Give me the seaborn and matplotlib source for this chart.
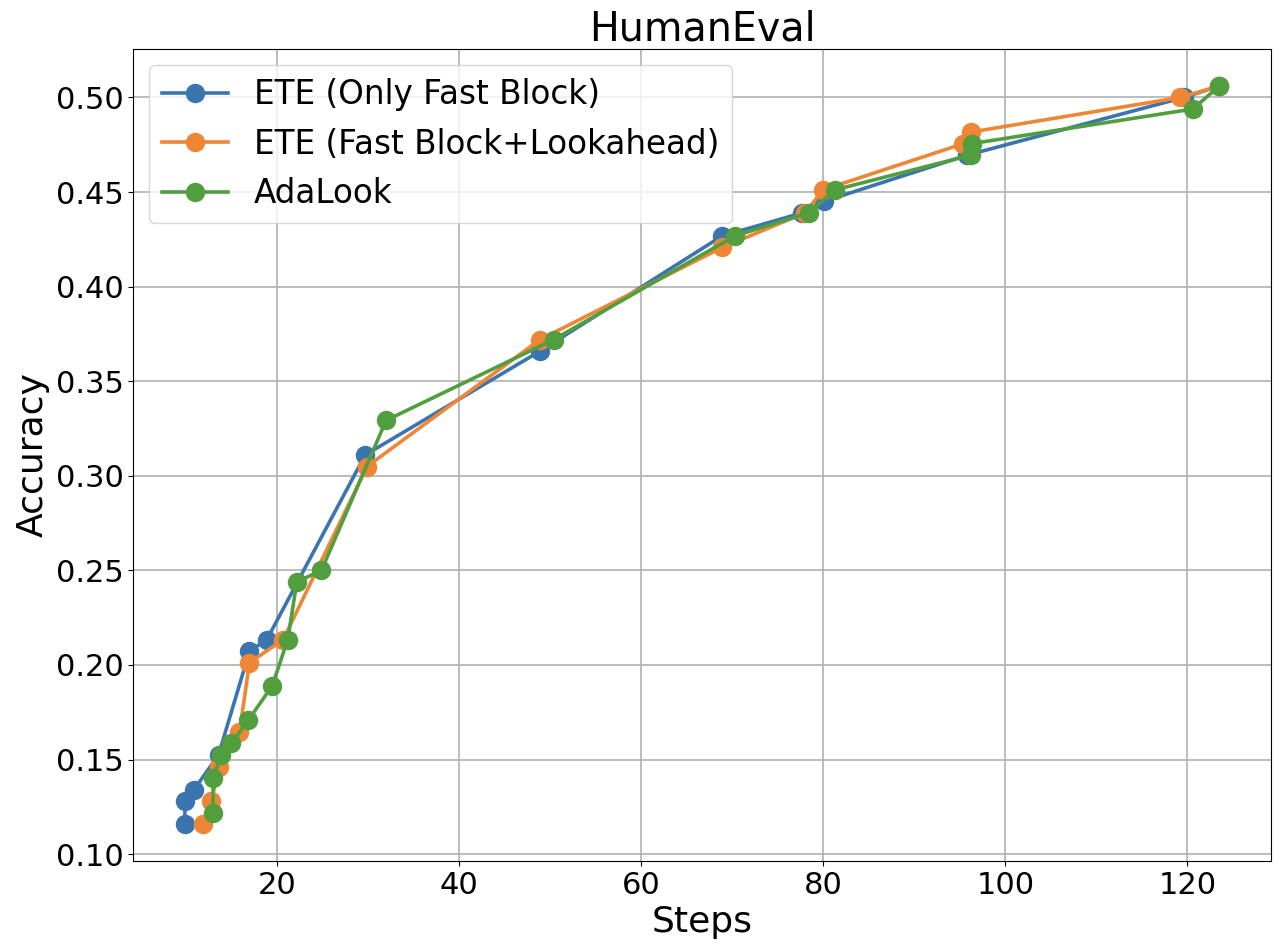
import numpy as np
import pandas as pd
import matplotlib
matplotlib.use("Agg")
import matplotlib.pyplot as plt
import seaborn as sns

# ==============================
# DATA
# ==============================
ete_fast_steps = [9.9, 9.9, 10.9, 13.6, 17.0, 18.9, 29.7, 48.9, 68.9, 77.7, 80.1, 95.8, 119.6, 123.5]
ete_fast_acc = [0.1159, 0.1280, 0.1341, 0.1524, 0.2073, 0.2134, 0.3110, 0.3659,
                0.4268, 0.4390, 0.4451, 0.4695, 0.5000, 0.5061]

ete_look_steps = [11.9, 12.8, 13.7, 15.9, 17.0, 20.7, 29.9, 48.9, 68.9, 78.0, 80.0,
                  95.4, 96.2, 119.2, 123.5]
ete_look_acc = [0.1159, 0.1280, 0.1463, 0.1646, 0.2012, 0.2134, 0.3049, 0.3720,
                0.4207, 0.4390, 0.4512, 0.4756, 0.4817, 0.5000, 0.5061]

adalook_steps = [13.0, 13.0, 13.9, 15.0, 16.85, 19.5, 21.2, 22.2, 24.9, 32.0, 50.4,
                 70.3, 78.4, 81.3, 96.2, 96.3, 120.6, 123.5]
adalook_acc = [0.1220, 0.1402, 0.1524, 0.1585, 0.1707, 0.1890, 0.2134, 0.2439, 0.2500,
               0.3293, 0.3720, 0.4268, 0.4390, 0.4512, 0.4695, 0.4756, 0.4939, 0.5061]

series_names = ["ETE (Only Fast Block)", "ETE (Fast Block+Lookahead)", "AdaLook"]
series_colors = ["#3b75af", "#ef8636", "#519e3e"]

# ==============================
# PLOT
# ==============================
fig, ax = plt.subplots(figsize=(12.8, 9.52), dpi=100)

all_series = [
    (ete_fast_steps, ete_fast_acc),
    (ete_look_steps, ete_look_acc),
    (adalook_steps, adalook_acc),
]
for (steps, acc), name, color in zip(all_series, series_names, series_colors):
    df = pd.DataFrame({"Steps": steps, "Accuracy": acc})
    # estimator=None keeps repeated step values as separate points
    sns.lineplot(data=df, x="Steps", y="Accuracy", ax=ax, sort=False, estimator=None,
                 color=color, label=name, marker="o", markersize=14,
                 markeredgewidth=0, linewidth=2.6)

ax.grid(True, color="#b0b0b0", linewidth=1.2)
ax.set_axisbelow(True)
ax.set_yticks([0.10, 0.15, 0.20, 0.25, 0.30, 0.35, 0.40, 0.45, 0.50])
ax.tick_params(labelsize=22)
ax.set_xlabel("Steps", fontsize=26)
ax.set_ylabel("Accuracy", fontsize=26)
ax.set_title("HumanEval", fontsize=28.5)
ax.legend(loc="upper left", fontsize=23.5)

plt.subplots_adjust(left=0.104, right=0.993, top=0.9485, bottom=0.0956)
plt.savefig("out.png", dpi=100)
